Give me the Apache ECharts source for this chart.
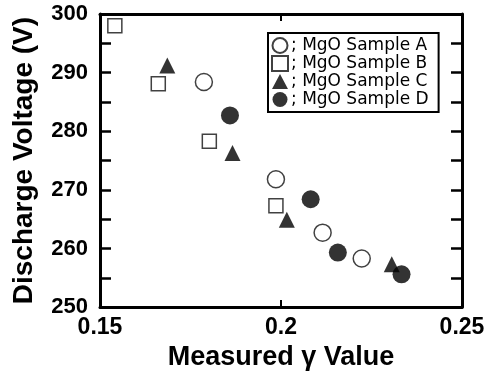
<!DOCTYPE html>
<html><head><meta charset="utf-8">
<script src="https://cdn.jsdelivr.net/npm/echarts@6/dist/echarts.min.js"></script>
<style>html,body{margin:0;padding:0;background:#fff}#c{width:491px;height:376px}</style>
</head><body><div id="c"></div>
<script>
const seriesNames = ['; MgO Sample A', '; MgO Sample B', '; MgO Sample C', '; MgO Sample D'];
const sampleA = [[0.1787, 288.4], [0.1986, 271.8], [0.2115, 262.7], [0.2223, 258.3]];
const sampleB = [[0.1541, 298.0], [0.1661, 288.1], [0.1802, 278.3], [0.1986, 267.3]];
const sampleC = [[0.1686, 291.2], [0.1866, 276.3], [0.2016, 264.9], [0.2306, 257.3]];
const sampleD = [[0.1859, 282.7], [0.2082, 268.4], [0.2157, 259.3], [0.2333, 255.6]];
const xTicks = [0.15, 0.2, 0.25];
const yTicks = [250, 260, 270, 280, 290, 300];

const F = 'Liberation Sans, Arial, sans-serif';
const chart = echarts.init(document.getElementById('c'));
const axisLine = {show: true, lineStyle: {color: '#000', width: 3}};
chart.setOption({
  animation: false,
  backgroundColor: '#fff',
  grid: {left: 100, right: 29, top: 14, bottom: 63},
  legend: {
    orient: 'vertical', left: 268, top: 33,
    data: seriesNames,
    itemWidth: 16, itemHeight: 15, itemGap: 1,
    borderColor: '#000', borderWidth: 2, borderRadius: 0,
    padding: [4, 10, 4, 3],
    textStyle: {fontFamily: 'DejaVu Sans, sans-serif', fontSize: 17, color: '#000', padding: [0, 0, 0, -2]}
  },
  xAxis: [{
    type: 'value', min: 0.15, max: 0.25, interval: 0.05,
    name: 'Measured \u03b3 Value', nameLocation: 'middle', nameGap: 31,
    nameTextStyle: {fontFamily: F, fontWeight: 'bold', fontSize: 27, color: '#000'},
    axisLine: axisLine,
    axisTick: {show: true, inside: true, length: 7, lineStyle: {color: '#000', width: 2}},
    axisLabel: {fontFamily: F, fontWeight: 'bold', fontSize: 23, color: '#000', margin: 9,
      formatter: v => xTicks.some(t => Math.abs(t - v) < 1e-9) ? String(+v.toFixed(2)) : ''},
    splitLine: {show: false}
  }, {
    type: 'value', min: 0.15, max: 0.25, interval: 0.05, position: 'top',
    axisLine: axisLine,
    axisTick: {show: true, inside: true, length: 7, lineStyle: {color: '#000', width: 2}},
    axisLabel: {show: false}, splitLine: {show: false}
  }],
  yAxis: [{
    type: 'value', min: 250, max: 300, interval: 5,
    name: 'Discharge Voltage (V)', nameLocation: 'middle', nameGap: 62,
    nameTextStyle: {fontFamily: F, fontWeight: 'bold', fontSize: 28, color: '#000'},
    axisLine: axisLine,
    axisTick: {show: true, inside: true, length: 11, lineStyle: {color: '#000', width: 2.5}},
    axisLabel: {fontFamily: F, fontWeight: 'bold', fontSize: 22, color: '#000', margin: 12,
      formatter: v => yTicks.includes(v) ? String(v) : ''},
    splitLine: {show: false}
  }, {
    type: 'value', min: 250, max: 300, interval: 5, position: 'right',
    axisLine: axisLine,
    axisTick: {show: true, inside: true, length: 11, lineStyle: {color: '#000', width: 2.5}},
    axisLabel: {show: false}, splitLine: {show: false}
  }],
  series: [
    {name: seriesNames[0], type: 'scatter', data: sampleA, symbol: 'circle', symbolSize: 17,
     itemStyle: {color: '#fff', borderColor: '#111', borderWidth: 1.5}},
    {name: seriesNames[1], type: 'scatter', data: sampleB, symbol: 'rect', symbolSize: 14,
     itemStyle: {color: '#fff', borderColor: '#111', borderWidth: 1.5}},
    {name: seriesNames[2], type: 'scatter', data: sampleC, symbol: 'triangle', symbolSize: 16,
     itemStyle: {color: '#000'}},
    {name: seriesNames[3], type: 'scatter', data: sampleD, symbol: 'circle', symbolSize: 18,
     itemStyle: {color: '#000'}}
  ]
});
</script></body></html>
